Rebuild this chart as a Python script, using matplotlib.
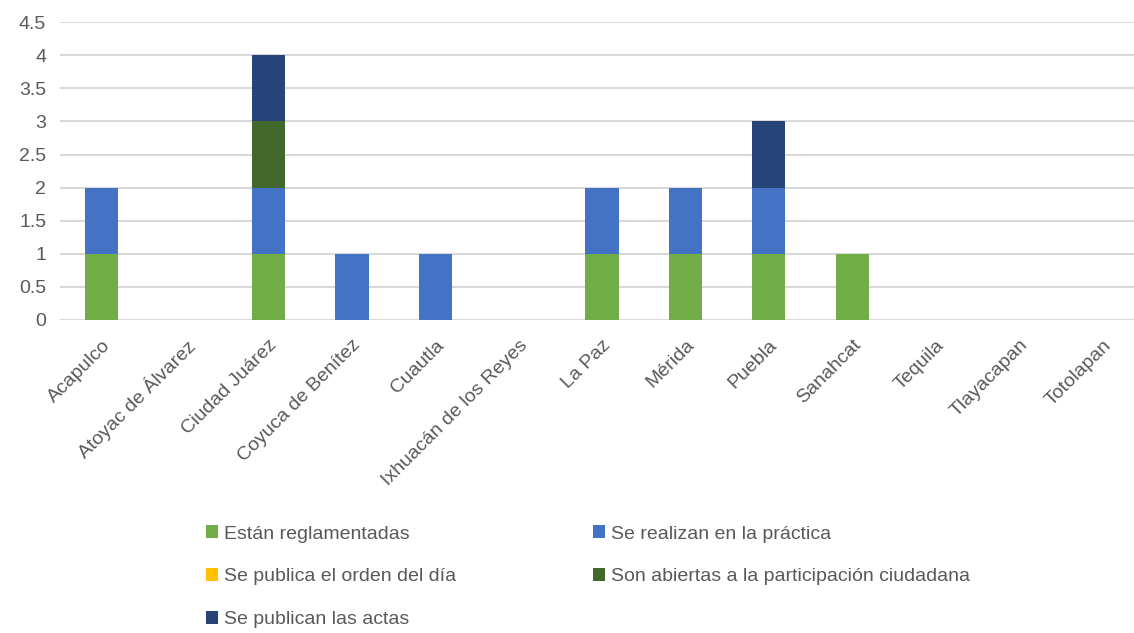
import matplotlib.pyplot as plt
import numpy as np

plt.rcParams['font.family'] = ['Liberation Sans', 'DejaVu Sans']

municipios = ["Acapulco", "Atoyac de Álvarez", "Ciudad Juárez", "Coyuca de Benítez", "Cuautla",
              "Ixhuacán de los Reyes", "La Paz", "Mérida", "Puebla", "Sanahcat", "Tequila",
              "Tlayacapan", "Totolapan"]

reglamentadas = [1, 0, 1, 0, 0, 0, 1, 1, 1, 1, 0, 0, 0]
practica = [1, 0, 1, 1, 1, 0, 1, 1, 1, 0, 0, 0, 0]
orden_dia = [0, 0, 0, 0, 0, 0, 0, 0, 0, 0, 0, 0, 0]
abiertas = [0, 0, 1, 0, 0, 0, 0, 0, 0, 0, 0, 0, 0]
actas = [0, 0, 1, 0, 0, 0, 0, 0, 1, 0, 0, 0, 0]

series = [
    ("Están reglamentadas", reglamentadas, "#70AD47"),
    ("Se realizan en la práctica", practica, "#4472C4"),
    ("Se publica el orden del día", orden_dia, "#FFC000"),
    ("Son abiertas a la participación ciudadana", abiertas, "#43682B"),
    ("Se publican las actas", actas, "#264478"),
]

fig = plt.figure(figsize=(11.34, 6.33), dpi=100)
ax = fig.add_axes([0.053, 0.4945, 0.947, 0.4705])

x = np.arange(len(municipios))
bottom = np.zeros(len(municipios))
handles = []
for name, vals, color in series:
    b = ax.bar(x, vals, width=0.4, bottom=bottom, color=color, label=name, zorder=3)
    handles.append(b)
    bottom += np.array(vals)

ax.set_ylim(0, 4.5)
ax.set_xlim(-0.5, 12.38)
ax.set_yticks(np.arange(0, 4.6, 0.5))
ax.set_yticklabels(["0", "0.5", "1", "1.5", "2", "2.5", "3", "3.5", "4", "4.5"])
ax.yaxis.grid(True, color="#D9D9D9", linewidth=1.5, zorder=0)
ax.set_axisbelow(True)
for s in ax.spines.values():
    s.set_visible(False)
ax.tick_params(axis="both", length=0, labelsize=14, labelcolor="#595959")
ax.tick_params(axis="y", pad=10)
ax.tick_params(axis="x", pad=12)
ax.set_xticks(x)
ax.set_xticklabels(municipios, rotation=45, ha="right", rotation_mode="anchor")

order = [0, 2, 4, 1, 3]
leg = fig.legend([handles[i] for i in order], [series[i][0] for i in order],
                 loc="upper left", bbox_to_anchor=(0.166, 0.1975), ncol=2, frameon=False,
                 fontsize=14, handlelength=0.62, handleheight=0.62, handletextpad=0.3,
                 columnspacing=7.05, labelspacing=1.32, labelcolor="#595959")

fig.savefig("out.png", dpi=100)
